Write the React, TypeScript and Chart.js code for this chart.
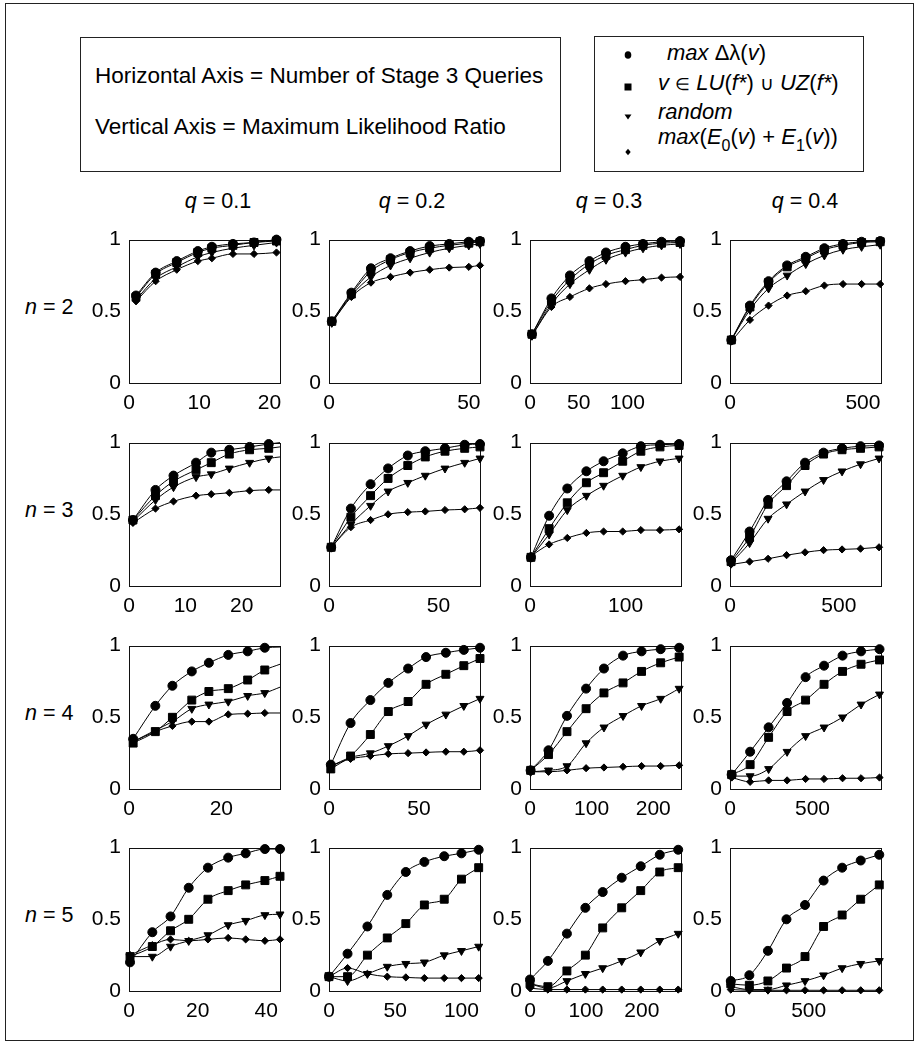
import React, { useEffect, useRef } from "react";
import { Chart, registerables } from "chart.js";
Chart.register(...registerables);

const FONT = '"Liberation Sans", Arial, Helvetica, sans-serif';

// ---------- tick labels / axis ranges ----------
const ROW_N = ["2", "3", "4", "5"];
const COL_Q = ["0.1", "0.2", "0.3", "0.4"];
const Y_TICKS = [0, 0.5, 1];
const XMAX_N2 = [21.5, 54, 155, 568];
const XMAX_N3 = [26.8, 69, 158, 694];
const XMAX_N4 = [32.7, 84, 245, 915];
const XMAX_N5 = [44, 114, 270, 960];
const XTICKS_N2 = [[0, 10, 20], [0, 50], [0, 50, 100], [0, 500]];
const XTICKS_N3 = [[0, 10, 20], [0, 50], [0, 100], [0, 500]];
const XTICKS_N4 = [[0, 20], [0, 50], [0, 100, 200], [0, 500]];
const XTICKS_N5 = [[0, 20, 40], [0, 50, 100], [0, 100, 200], [0, 500]];

// ---------- n = 2 ----------
const X_N2_Q1 = [1, 3.8, 6.8, 9.8, 11.8, 14.8, 17.8, 21];
const CIRC_N2_Q1 = [0.61, 0.77, 0.85, 0.92, 0.95, 0.97, 0.98, 1.0];
const SQ_N2_Q1 = [0.6, 0.76, 0.84, 0.91, 0.94, 0.96, 0.98, 0.99];
const TRI_N2_Q1 = [0.58, 0.73, 0.81, 0.88, 0.91, 0.94, 0.96, 0.98];
const DIA_N2_Q1 = [0.57, 0.71, 0.79, 0.85, 0.87, 0.9, 0.9, 0.91];

const X_N2_Q2 = [1, 8, 15, 22, 29, 36, 43, 50, 54];
const CIRC_N2_Q2 = [0.43, 0.63, 0.8, 0.87, 0.92, 0.955, 0.97, 0.985, 0.99];
const SQ_N2_Q2 = [0.43, 0.62, 0.78, 0.86, 0.91, 0.94, 0.96, 0.975, 0.985];
const TRI_N2_Q2 = [0.42, 0.61, 0.74, 0.82, 0.87, 0.91, 0.94, 0.96, 0.97];
const DIA_N2_Q2 = [0.42, 0.6, 0.7, 0.74, 0.77, 0.79, 0.805, 0.81, 0.82];

const X_N2_Q3 = [2, 22, 41, 61, 78, 98, 116, 135, 154];
const CIRC_N2_Q3 = [0.34, 0.59, 0.75, 0.85, 0.91, 0.95, 0.97, 0.985, 0.99];
const SQ_N2_Q3 = [0.34, 0.57, 0.72, 0.83, 0.89, 0.93, 0.96, 0.975, 0.98];
const TRI_N2_Q3 = [0.33, 0.55, 0.69, 0.79, 0.86, 0.91, 0.94, 0.96, 0.97];
const DIA_N2_Q3 = [0.33, 0.53, 0.6, 0.66, 0.69, 0.71, 0.72, 0.735, 0.74];

const X_N2_Q4 = [5, 75, 145, 215, 285, 355, 425, 495, 565];
const CIRC_N2_Q4 = [0.3, 0.54, 0.71, 0.82, 0.88, 0.94, 0.97, 0.985, 0.99];
const SQ_N2_Q4 = [0.3, 0.53, 0.7, 0.81, 0.87, 0.93, 0.96, 0.98, 0.985];
const TRI_N2_Q4 = [0.3, 0.51, 0.66, 0.75, 0.83, 0.89, 0.93, 0.95, 0.965];
const DIA_N2_Q4 = [0.29, 0.44, 0.54, 0.61, 0.64, 0.68, 0.69, 0.69, 0.69];

// ---------- n = 3 ----------
const X_N3_Q1 = [0.7, 4.7, 7.9, 11.9, 14.6, 17.8, 21.4, 24.8, 26.8];
const CIRC_N3_Q1 = [0.46, 0.67, 0.77, 0.86, 0.93, 0.95, 0.97, 0.99, 1.0];
const SQ_N3_Q1 = [0.46, 0.63, 0.73, 0.81, 0.86, 0.92, 0.95, 0.96, 0.97];
const TRI_N3_Q1 = [0.45, 0.6, 0.69, 0.76, 0.78, 0.82, 0.86, 0.89, 0.9];
const DIA_N3_Q1 = [0.44, 0.54, 0.59, 0.63, 0.64, 0.65, 0.665, 0.67, 0.67];

const X_N3_Q2 = [1, 10, 19, 27, 36, 44, 53, 62, 69];
const CIRC_N3_Q2 = [0.27, 0.54, 0.71, 0.82, 0.91, 0.94, 0.96, 0.985, 0.99];
const SQ_N3_Q2 = [0.27, 0.48, 0.63, 0.75, 0.84, 0.9, 0.94, 0.96, 0.97];
const TRI_N3_Q2 = [0.27, 0.43, 0.56, 0.66, 0.72, 0.77, 0.82, 0.86, 0.89];
const DIA_N3_Q2 = [0.27, 0.41, 0.46, 0.5, 0.515, 0.52, 0.53, 0.535, 0.545];

const X_N3_Q3 = [1, 20, 39, 59, 77, 97, 116, 136, 156];
const CIRC_N3_Q3 = [0.2, 0.49, 0.68, 0.8, 0.87, 0.925, 0.975, 0.985, 0.99];
const SQ_N3_Q3 = [0.2, 0.4, 0.58, 0.72, 0.79, 0.87, 0.94, 0.97, 0.98];
const TRI_N3_Q3 = [0.2, 0.36, 0.53, 0.63, 0.7, 0.77, 0.83, 0.87, 0.89];
const DIA_N3_Q3 = [0.21, 0.29, 0.335, 0.37, 0.38, 0.38, 0.39, 0.39, 0.395];

const X_N3_Q4 = [5, 90, 175, 260, 345, 430, 515, 600, 685];
const CIRC_N3_Q4 = [0.18, 0.38, 0.6, 0.73, 0.86, 0.93, 0.96, 0.975, 0.98];
const SQ_N3_Q4 = [0.17, 0.34, 0.57, 0.7, 0.84, 0.92, 0.95, 0.96, 0.97];
const TRI_N3_Q4 = [0.16, 0.3, 0.47, 0.57, 0.66, 0.74, 0.8, 0.85, 0.89];
const DIA_N3_Q4 = [0.15, 0.17, 0.19, 0.215, 0.235, 0.25, 0.255, 0.26, 0.27];

// ---------- n = 4 ----------
const X_N4_Q1 = [0.9, 5.7, 9.4, 13.6, 17.3, 21.5, 25.7, 29.4, 32.7];
const CIRC_N4_Q1 = [0.35, 0.58, 0.72, 0.82, 0.88, 0.935, 0.96, 0.985, 0.99];
const SQ_N4_Q1 = [0.32, 0.4, 0.5, 0.62, 0.68, 0.7, 0.76, 0.83, 0.87];
const TRI_N4_Q1 = [0.33, 0.41, 0.47, 0.56, 0.59, 0.61, 0.65, 0.67, 0.71];
const DIA_N4_Q1 = [0.33, 0.4, 0.44, 0.47, 0.47, 0.52, 0.525, 0.53, 0.53];

const X_N4_Q2 = [1, 12, 23, 33, 44, 54, 65, 75, 84];
const CIRC_N4_Q2 = [0.17, 0.46, 0.62, 0.74, 0.84, 0.92, 0.95, 0.97, 0.985];
const SQ_N4_Q2 = [0.14, 0.23, 0.38, 0.54, 0.61, 0.73, 0.8, 0.86, 0.91];
const TRI_N4_Q2 = [0.16, 0.22, 0.25, 0.3, 0.37, 0.45, 0.52, 0.58, 0.63];
const DIA_N4_Q2 = [0.16, 0.21, 0.23, 0.245, 0.25, 0.255, 0.26, 0.26, 0.27];

const X_N4_Q3 = [1, 30, 60, 91, 120, 151, 181, 212, 242];
const CIRC_N4_Q3 = [0.13, 0.27, 0.51, 0.7, 0.84, 0.93, 0.96, 0.975, 0.985];
const SQ_N4_Q3 = [0.13, 0.24, 0.4, 0.56, 0.67, 0.74, 0.82, 0.88, 0.92];
const TRI_N4_Q3 = [0.12, 0.13, 0.16, 0.32, 0.43, 0.51, 0.58, 0.63, 0.7];
const DIA_N4_Q3 = [0.12, 0.12, 0.13, 0.145, 0.15, 0.155, 0.16, 0.16, 0.165];

const X_N4_Q4 = [10, 122, 234, 346, 458, 570, 682, 794, 906];
const CIRC_N4_Q4 = [0.1, 0.26, 0.43, 0.6, 0.78, 0.86, 0.93, 0.96, 0.975];
const SQ_N4_Q4 = [0.1, 0.17, 0.36, 0.54, 0.62, 0.73, 0.82, 0.87, 0.9];
const TRI_N4_Q4 = [0.09, 0.09, 0.14, 0.26, 0.37, 0.43, 0.5, 0.59, 0.66];
const DIA_N4_Q4 = [0.08, 0.05, 0.06, 0.06, 0.07, 0.07, 0.075, 0.075, 0.08];

// ---------- n = 5 ----------
const X_N5_Q1 = [0.3, 6.8, 12.1, 17.4, 23, 28.9, 34, 39.6, 44];
const CIRC_N5_Q1 = [0.2, 0.41, 0.52, 0.72, 0.86, 0.93, 0.96, 0.99, 0.99];
const SQ_N5_Q1 = [0.24, 0.31, 0.42, 0.5, 0.64, 0.7, 0.74, 0.77, 0.8];
const TRI_N5_Q1 = [0.24, 0.24, 0.31, 0.35, 0.39, 0.46, 0.49, 0.53, 0.535];
const DIA_N5_Q1 = [0.25, 0.32, 0.36, 0.35, 0.36, 0.37, 0.36, 0.35, 0.36];

const X_N5_Q2 = [0, 14, 29, 44, 58, 72, 87, 100, 113];
const CIRC_N5_Q2 = [0.1, 0.26, 0.45, 0.67, 0.83, 0.9, 0.94, 0.96, 0.985];
const SQ_N5_Q2 = [0.1, 0.1, 0.25, 0.37, 0.47, 0.6, 0.64, 0.78, 0.86];
const TRI_N5_Q2 = [0.1, 0.07, 0.12, 0.17, 0.19, 0.2, 0.25, 0.28, 0.31];
const DIA_N5_Q2 = [0.1, 0.16, 0.12, 0.1, 0.095, 0.09, 0.09, 0.09, 0.09];

const X_N5_Q3 = [0, 32, 66, 99, 130, 164, 198, 232, 265];
const CIRC_N5_Q3 = [0.08, 0.21, 0.4, 0.58, 0.69, 0.79, 0.87, 0.95, 0.985];
const SQ_N5_Q3 = [0.05, 0.03, 0.14, 0.25, 0.44, 0.58, 0.7, 0.83, 0.86];
const TRI_N5_Q3 = [0.05, 0.02, 0.07, 0.12, 0.16, 0.21, 0.27, 0.35, 0.4];
const DIA_N5_Q3 = [0.02, 0.01, 0.01, 0.01, 0.01, 0.01, 0.01, 0.01, 0.01];

const X_N5_Q4 = [5, 123, 241, 359, 477, 595, 713, 831, 949];
const CIRC_N5_Q4 = [0.07, 0.11, 0.28, 0.5, 0.6, 0.77, 0.86, 0.91, 0.95];
const SQ_N5_Q4 = [0.05, 0.04, 0.07, 0.16, 0.24, 0.45, 0.53, 0.64, 0.74];
const TRI_N5_Q4 = [0.03, 0.01, 0.01, 0.04, 0.07, 0.11, 0.16, 0.19, 0.21];
const DIA_N5_Q4 = [0.01, 0.005, 0.005, 0.005, 0.005, 0.005, 0.005, 0.005, 0.005];

// panels whose last point is only a line end (no marker)
const OPEN_END = [[false, false, false, false], [true, false, false, false], [true, false, false, false], [false, false, false, false]];

// ---------- layout ----------
const COL_LEFT = [129, 329, 530, 730];
const ROW_TOP = [233, 436, 639, 841];
const PLOT_W = 151;
const PLOT_H = 150;
const LP = 58, RP = 16, TP = 14, BP = 36;
const COL_TITLE_X = [218, 412, 609, 805];

const XMAX = [XMAX_N2, XMAX_N3, XMAX_N4, XMAX_N5];
const XTICKS = [XTICKS_N2, XTICKS_N3, XTICKS_N4, XTICKS_N5];
const XS = [
  [X_N2_Q1, X_N2_Q2, X_N2_Q3, X_N2_Q4],
  [X_N3_Q1, X_N3_Q2, X_N3_Q3, X_N3_Q4],
  [X_N4_Q1, X_N4_Q2, X_N4_Q3, X_N4_Q4],
  [X_N5_Q1, X_N5_Q2, X_N5_Q3, X_N5_Q4],
];
const CIRC = [
  [CIRC_N2_Q1, CIRC_N2_Q2, CIRC_N2_Q3, CIRC_N2_Q4],
  [CIRC_N3_Q1, CIRC_N3_Q2, CIRC_N3_Q3, CIRC_N3_Q4],
  [CIRC_N4_Q1, CIRC_N4_Q2, CIRC_N4_Q3, CIRC_N4_Q4],
  [CIRC_N5_Q1, CIRC_N5_Q2, CIRC_N5_Q3, CIRC_N5_Q4],
];
const SQ = [
  [SQ_N2_Q1, SQ_N2_Q2, SQ_N2_Q3, SQ_N2_Q4],
  [SQ_N3_Q1, SQ_N3_Q2, SQ_N3_Q3, SQ_N3_Q4],
  [SQ_N4_Q1, SQ_N4_Q2, SQ_N4_Q3, SQ_N4_Q4],
  [SQ_N5_Q1, SQ_N5_Q2, SQ_N5_Q3, SQ_N5_Q4],
];
const TRI = [
  [TRI_N2_Q1, TRI_N2_Q2, TRI_N2_Q3, TRI_N2_Q4],
  [TRI_N3_Q1, TRI_N3_Q2, TRI_N3_Q3, TRI_N3_Q4],
  [TRI_N4_Q1, TRI_N4_Q2, TRI_N4_Q3, TRI_N4_Q4],
  [TRI_N5_Q1, TRI_N5_Q2, TRI_N5_Q3, TRI_N5_Q4],
];
const DIA = [
  [DIA_N2_Q1, DIA_N2_Q2, DIA_N2_Q3, DIA_N2_Q4],
  [DIA_N3_Q1, DIA_N3_Q2, DIA_N3_Q3, DIA_N3_Q4],
  [DIA_N4_Q1, DIA_N4_Q2, DIA_N4_Q3, DIA_N4_Q4],
  [DIA_N5_Q1, DIA_N5_Q2, DIA_N5_Q3, DIA_N5_Q4],
];

const boxPlugin = {
  id: "box",
  beforeDatasetsDraw(chart: any) {
    const { ctx, chartArea: a } = chart;
    ctx.save();
    ctx.strokeStyle = "#111";
    ctx.lineWidth = 1;
    ctx.strokeRect(Math.round(a.left) + 0.5, Math.round(a.top) + 0.5, Math.round(a.right - a.left), Math.round(a.bottom - a.top));
    ctx.restore();
  },
};

function Panel({ r, c }: { r: number; c: number }) {
  const ref = useRef<HTMLCanvasElement>(null);
  const W = PLOT_W + LP + RP;
  const H = PLOT_H + TP + BP;
  useEffect(() => {
    const xs = XS[r][c];
    const open = OPEN_END[r][c];
    const last = xs.length - 1;
    const mk = (ys: number[], style: string, radius: number, rotation = 0) => ({
      data: xs.map((x, i) => ({ x, y: ys[i] })),
      borderColor: "#000",
      backgroundColor: "#000",
      borderWidth: 1,
      pointStyle: style,
      pointRotation: rotation,
      pointRadius: (ctx: any) => (open && ctx.dataIndex === last ? 0 : radius),
      pointBackgroundColor: "#000",
      pointBorderColor: "#000",
      pointBorderWidth: 1,
      cubicInterpolationMode: "monotone",
      clip: 8,
    });
    const tickFont = { family: FONT, size: 21 };
    const chart = new Chart(ref.current as HTMLCanvasElement, {
      type: "line",
      data: {
        datasets: [
          mk(DIA[r][c], "rectRot", 3.6),
          mk(TRI[r][c], "triangle", 4.6, 180),
          mk(SQ[r][c], "rect", 5.6),
          mk(CIRC[r][c], "circle", 4.5),
        ] as any,
      },
      options: {
        animation: false,
        responsive: false,
        events: [],
        layout: { padding: { top: TP, right: RP, left: 0, bottom: 0 } },
        plugins: { legend: { display: false }, tooltip: { enabled: false } },
        scales: {
          x: {
            type: "linear",
            min: 0,
            max: XMAX[r][c],
            grid: { display: false, drawTicks: false },
            border: { display: false },
            afterBuildTicks: (s: any) => {
              s.ticks = XTICKS[r][c].map((v) => ({ value: v }));
            },
            afterFit: (s: any) => {
              s.height = BP;
            },
            ticks: { font: tickFont, color: "#000", padding: 8, maxRotation: 0, autoSkip: false, callback: (v: any) => String(v) },
          },
          y: {
            type: "linear",
            min: 0,
            max: 1,
            grid: { display: false, drawTicks: false },
            border: { display: false },
            afterBuildTicks: (s: any) => {
              s.ticks = Y_TICKS.map((v) => ({ value: v }));
            },
            afterFit: (s: any) => {
              s.width = LP;
            },
            ticks: { font: tickFont, color: "#000", padding: 8, autoSkip: false, callback: (v: any) => String(v) },
          },
        },
      } as any,
      plugins: [boxPlugin],
    });
    return () => chart.destroy();
  }, [r, c]);
  return (
    <canvas
      ref={ref}
      width={W}
      height={H}
      style={{ position: "absolute", left: COL_LEFT[c] - LP, top: ROW_TOP[r] - TP, width: W, height: H }}
    />
  );
}

function Marker({ kind }: { kind: string }) {
  return (
    <svg width="14" height="14" viewBox="0 0 14 14" style={{ display: "block" }}>
      {kind === "circle" && <ellipse cx="7" cy="7" rx="3.3" ry="3.8" fill="#000" />}
      {kind === "square" && <rect x="3.5" y="3.5" width="7" height="7" fill="#000" />}
      {kind === "tri" && <polygon points="3.5,4.5 10.5,4.5 7,9.5" fill="#000" />}
      {kind === "dia" && <polygon points="7,3.8 9.7,7 7,10.2 4.3,7" fill="#000" />}
    </svg>
  );
}

const txt: React.CSSProperties = { position: "absolute", fontFamily: FONT, fontSize: 21, color: "#000", whiteSpace: "nowrap", lineHeight: 1 };
const sub: React.CSSProperties = { fontSize: 16, verticalAlign: "-0.45em", fontStyle: "normal" };

const LEGEND_ITEMS = [
  { kind: "circle", y: 53, my: 55, x: 667 },
  { kind: "square", y: 83, my: 87, x: 658 },
  { kind: "tri", y: 112, my: 117, x: 658 },
  { kind: "dia", y: 140, my: 152, x: 658 },
];

export default function App() {
  const panels = [];
  for (let r = 0; r < 4; r++) for (let c = 0; c < 4; c++) panels.push(<Panel key={`${r}-${c}`} r={r} c={c} />);
  const legendTexts = [
    <><i>max</i>&nbsp;Δλ(<i>v</i>)</>,
    <><i>v</i> <span style={{ fontSize: 17 }}>∈</span> <i>LU</i>(<i>f*</i>) <span style={{ fontSize: 19 }}>∪</span> <i>UZ</i>(<i>f*</i>)</>,
    <i>random</i>,
    <><i>max</i>(<i>E</i><span style={sub}>0</span>(<i>v</i>) + <i>E</i><span style={sub}>1</span>(<i>v</i>))</>,
  ];
  return (
    <div style={{ position: "absolute", left: 0, top: 0, width: 918, height: 1046, background: "#fff" }}>
      {/* outer frame */}
      <div style={{ position: "absolute", left: 5, top: 3, width: 907, height: 1036, border: "1.5px solid #222" }} />
      {/* axis description box */}
      <div style={{ position: "absolute", left: 80, top: 37, width: 479, height: 133, border: "1px solid #222" }} />
      <div style={{ ...txt, fontSize: 22.5, left: 95, top: 76, transform: "translateY(-50%)" }}>Horizontal Axis = Number of Stage 3 Queries</div>
      <div style={{ ...txt, fontSize: 22.5, left: 95, top: 127, transform: "translateY(-50%)" }}>Vertical Axis = Maximum Likelihood Ratio</div>
      {/* legend box */}
      <div style={{ position: "absolute", left: 594, top: 36, width: 268, height: 134, border: "1px solid #222" }} />
      {LEGEND_ITEMS.map((it, i) => (
        <React.Fragment key={i}>
          <div style={{ position: "absolute", left: 621, top: it.my - 7 }}>
            <Marker kind={it.kind} />
          </div>
          <div style={{ ...txt, fontSize: 22, left: it.x, top: it.y, transform: "translateY(-50%)" }}>{legendTexts[i]}</div>
        </React.Fragment>
      ))}
      {/* column titles */}
      {COL_Q.map((q, c) => (
        <div key={q} style={{ ...txt, fontSize: 21.5, left: COL_TITLE_X[c], top: 202, transform: "translate(-50%,-50%)" }}>
          <i>q</i> = {q}
        </div>
      ))}
      {/* row titles */}
      {ROW_N.map((n, r) => (
        <div key={n} style={{ ...txt, fontSize: 21.5, left: 25, top: ROW_TOP[r] + PLOT_H / 2, transform: "translateY(-50%)" }}>
          <i>n</i> = {n}
        </div>
      ))}
      {panels}
    </div>
  );
}
